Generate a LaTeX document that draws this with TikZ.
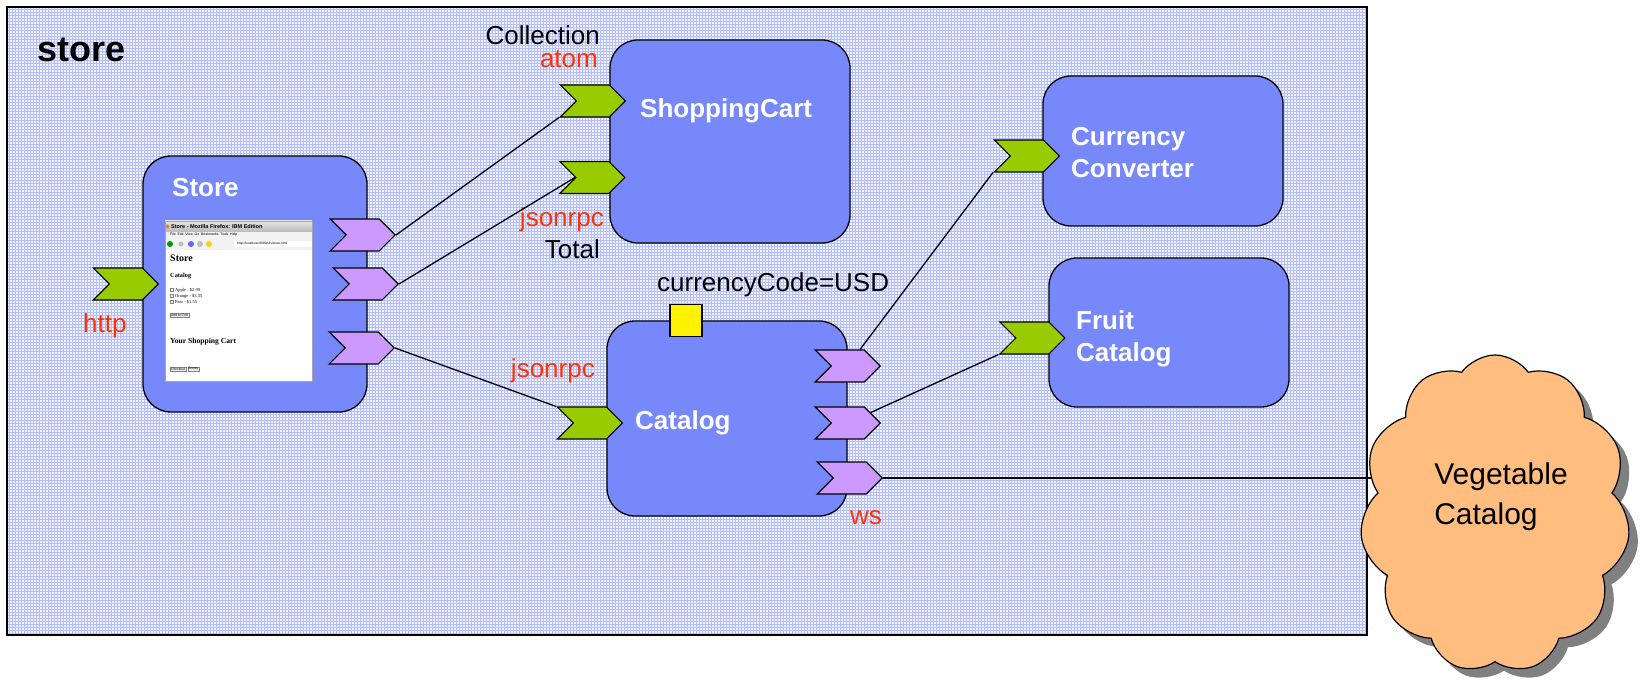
\documentclass[tikz,border=0pt]{standalone}
\usepackage{fontspec}
\setmainfont{Liberation Sans}
\newfontfamily\shotfont{Liberation Serif}
\usetikzlibrary{positioning}
\usetikzlibrary{shapes.symbols}
\usetikzlibrary{shadows}
\usetikzlibrary{patterns}
\definecolor{compblue}{RGB}{119,136,250}
\definecolor{framefill}{RGB}{240,242,255}
\definecolor{gridblue}{RGB}{180,190,252}
\definecolor{portgreen}{RGB}{153,204,0}
\definecolor{portpurple}{RGB}{204,153,255}
\definecolor{bindred}{RGB}{255,51,0}
\definecolor{cloudorange}{RGB}{255,190,128}
\tikzset{comp/.style={draw, line width=1.3pt, fill=compblue, rounded corners=28pt, inner sep=0pt}}
\tikzset{port/.style={draw, line width=1.2pt, signal, signal from=west, signal to=east, minimum width=65pt, minimum height=32pt, inner sep=0pt}}
\tikzset{svcport/.style={port, fill=portgreen}}
\tikzset{refport/.style={port, fill=portpurple}}
\tikzset{ttl/.style={text=white, font=\fontsize{26}{32}\selectfont\bfseries, inner sep=0pt}}
\tikzset{lbl/.style={font=\fontsize{26}{32}\selectfont, inner sep=0pt}}
\tikzset{bind/.style={lbl, text=bindred}}
\tikzset{wire/.style={line width=1.3pt}}
\tikzset{shot/.style={font=\shotfont\bfseries\fontsize{#1}{#1}\selectfont, inner sep=0pt, anchor=west}}
\tikzset{shotitem/.style={font=\shotfont\fontsize{4.5}{5}\selectfont, inner sep=0pt, anchor=west}}
\tikzset{shotbtn/.style={draw=gray, fill=gray!12, line width=0.3pt, font=\fontsize{3.4}{4}\selectfont, inner sep=0.7pt, anchor=west}}

\begin{document}
\begin{tikzpicture}[x=1pt, y=1pt, on grid]
        \useasboundingbox (0,0) rectangle (1641,690);
        \fill[framefill, postaction={pattern=grid, pattern color=gridblue}] (7,55) rectangle (1367,683);
        \draw[line width=2.5pt] (7,55) rectangle (1367,683);
        \node[anchor=west, inner sep=0pt, font=\fontsize{36}{40}\selectfont\bfseries] (comptitle) at (37,640) {store};

        \node[comp, minimum width=224pt, minimum height=256pt] (store) at (255,406) {};
        \node[comp, minimum width=240pt, minimum height=203pt] (cart) at (730,548.5) {};
        \node[comp, minimum width=240pt, minimum height=195pt] (catalog) at (727,271.5) {};
        \node[comp, minimum width=240pt, minimum height=150pt] (conv) at (1163,539) {};
        \node[comp, minimum width=240pt, minimum height=149pt] (fruit) at (1169,357.5) {};

        \node[svcport, left=16.5pt of store.west, anchor=center] (sh) {};
        \node[refport, above left=49pt and 5pt of store.east, anchor=center] (sr1) {};
        \node[refport, left=2pt of store.east, anchor=center] (sr2) {};
        \node[refport, below left=64pt and 6pt of store.east, anchor=center] (sr3) {};
        \node[svcport, above left=40.5pt and 16.5pt of cart.west, anchor=center] (sca) {};
        \node[svcport, below left=36pt and 17pt of cart.west, anchor=center] (sct) {};
        \node[svcport, below left=4.5pt and 16.5pt of catalog.west, anchor=center] (cs) {};
        \node[refport, above=52.5pt of catalog.east, anchor=center] (cr1) {};
        \node[refport, below=4.5pt of catalog.east, anchor=center] (cr2) {};
        \node[refport, below left=59.5pt and -2pt of catalog.east, anchor=center] (cr3) {};
        \node[draw, line width=1.2pt, fill=yellow, minimum size=32pt, inner sep=0pt, left=41pt of catalog.north, anchor=center] (prop) {};
        \node[svcport, below left=5pt and 15.5pt of conv.west, anchor=center] (ccs) {};
        \node[svcport, below left=5.5pt and 16pt of fruit.west, anchor=center] (fs) {};

        \fill[white] (165,309) rectangle (312,469);
        \shade[top color=gray!20, bottom color=gray!55] (165,458) rectangle (312,469);
        \fill[gray!10] (165,440) rectangle (312,458);
        \fill[white] (234,443) rectangle (312,449);
        \fill[orange] (167.5,463.5) circle (2pt);
        \fill[green!60!black] (170,446) circle (3pt);
        \fill[gray!50] (181,446) circle (2.5pt);
        \fill[blue!60] (191,446) circle (3pt);
        \fill[gray!50] (200,446) circle (3pt);
        \fill[yellow!70!orange] (209,446) circle (3pt);
        \draw[gray!70, line width=0.5pt] (165,309) rectangle (312,469);
        \node[anchor=west, inner sep=0pt, font=\fontsize{5.5}{6}\selectfont\bfseries] (shottitle) at (171,463.5) {Store - Mozilla Firefox: IBM Edition};
        \node[anchor=west, inner sep=0pt, font=\fontsize{3.5}{4}\selectfont] (shotmenu) at (170,455) {File\enspace Edit\enspace View\enspace Go\enspace Bookmarks\enspace Tools\enspace Help};
        \node[anchor=west, inner sep=0pt, font=\fontsize{3.3}{4}\selectfont] (shoturl) at (237,446) {http://localhost:8080/ufs/store.html};
        \node[shot=10] (shotstore) at (170,432) {Store};
        \node[shot=6.3] (shotcat) at (170,414) {Catalog};
        \draw[gray, line width=0.3pt] (170.5,398.5) rectangle +(3,3);
        \draw[gray, line width=0.3pt] (170.5,392.5) rectangle +(3,3);
        \draw[gray, line width=0.3pt] (170.5,386.5) rectangle +(3,3);
        \node[shotitem] (apple) at (175,400) {Apple - \$2.99};
        \node[shotitem] (orange) at (175,394) {Orange - \$3.55};
        \node[shotitem] (pear) at (175,388) {Pear - \$1.55};
        \node[shotbtn] (addbtn) at (170,375) {Add to Cart};
        \node[shot=7.6] (shotcart) at (170,348) {Your Shopping Cart};
        \node[shotbtn] (checkbtn) at (170,321) {Checkout};
        \node[shotbtn, right=1.5pt of checkbtn.east, anchor=west] (emptybtn) {Empty};

        \node[ttl, anchor=base west] (storelbl) at (172,493) {Store};
        \node[ttl, anchor=base west] (cartlbl) at (640,572) {ShoppingCart};
        \node[ttl, anchor=base west] (catlbl) at (635,260) {Catalog};
        \node[ttl, anchor=north west, align=left] (convlbl) at (1071,563) {Currency\\Converter};
        \node[ttl, anchor=north west, align=left] (fruitlbl) at (1076,380) {Fruit\\Catalog};
        \node[lbl, anchor=base east] (colllbl) at (600,645) {Collection};
        \node[bind, anchor=base east] (atomlbl) at (598,622) {atom};
        \node[bind, anchor=base east] (rpclbl) at (604,463) {jsonrpc};
        \node[lbl, anchor=base east] (totallbl) at (600,431.5) {Total};
        \node[bind, anchor=base west] (httplbl) at (83,357) {http};
        \node[lbl, anchor=base west] (proplbl) at (657,398) {currencyCode=USD};
        \node[bind, anchor=base east] (catrpclbl) at (595,312) {jsonrpc};
        \node[bind, anchor=base west] (wslbl) at (850,165) {ws};

        \draw[wire] (sr1.east) -- (sca.south west);
        \draw[wire] (sr2.east) -- (sct.west);
        \draw[wire] (sr3.east) -- (cs.north west);
        \draw[wire] (cr1) -- (ccs.south west);
        \draw[wire] (cr2) -- (fs.south west);
        \coordinate (vegc) at (1495,176);
        \draw[wire] (cr3.east) -- (cr3.east -| vegc);

        \node[cloud, cloud puffs=11, cloud puff arc=110, aspect=0.87, draw, line width=1.2pt, fill=cloudorange, minimum width=270pt, minimum height=318pt, inner sep=0pt, drop shadow={shadow xshift=9pt, shadow yshift=-9pt, fill=black!50, opacity=1}] (veg) at (vegc) {};
        \node[align=left, inner sep=0pt, font=\fontsize{30}{40}\selectfont] (veglbl) at (1501,193) {Vegetable\\Catalog};
    \end{tikzpicture}
\end{document}
